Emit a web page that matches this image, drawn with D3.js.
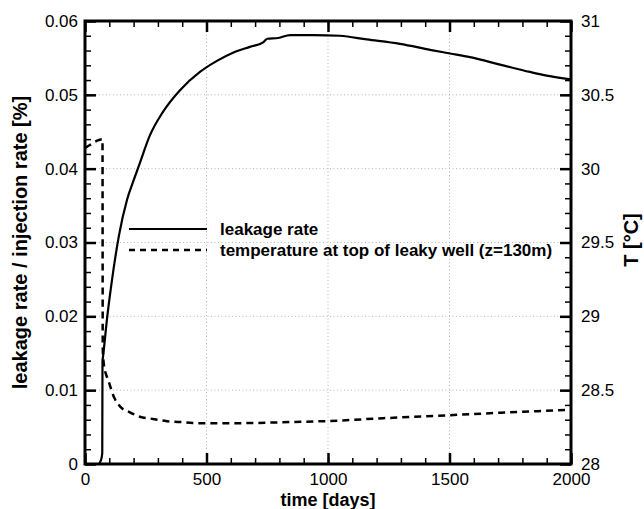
<!DOCTYPE html>
<html>
<head>
<meta charset="utf-8">
<script src="https://cdn.jsdelivr.net/npm/d3@7"></script>
<style>
  body { margin: 0; background: #fff; }
  text { font-family: "Liberation Sans", Arial, Helvetica, sans-serif; }
</style>
</head>
<body>
<div id="root"></div>
<script>
// leakage rate / injection rate [%] vs time [days]
const leakDays = [0, 55, 63, 68, 71, 72, 74, 90, 111, 140, 173, 200, 226, 267, 321, 390, 473, 543, 609, 679, 733, 750, 795, 844, 939, 1049, 1160, 1296, 1420, 1502, 1584, 1708, 1831, 1900, 2000];
const leakRate = [0, 0, 0.0003, 0.0008, 0.0015, 0.014, 0.0145, 0.0195, 0.0249, 0.031, 0.0358, 0.0384, 0.0408, 0.0445, 0.0477, 0.0506, 0.0531, 0.0546, 0.0557, 0.0565, 0.0571, 0.0576, 0.0577, 0.0581, 0.0581, 0.058, 0.0575, 0.0569, 0.0561, 0.0556, 0.0551, 0.0541, 0.0531, 0.0526, 0.0521];

// temperature at top of leaky well [°C]
const tempDays = [0, 20, 50, 72, 73, 78, 86, 95, 120, 144, 185, 226, 280, 337, 391, 444, 502, 584, 700, 800, 1000, 1227, 1494, 1708, 1975, 2000];
const tempVal = [30.14, 30.16, 30.19, 30.2, 28.78, 28.67, 28.61, 28.57, 28.45, 28.39, 28.35, 28.32, 28.305, 28.29, 28.285, 28.278, 28.276, 28.276, 28.278, 28.282, 28.291, 28.31, 28.33, 28.347, 28.366, 28.368];

const xTicks = [0, 500, 1000, 1500, 2000];
const xTickLabels = ["0", "500", "1000", "1500", "2000"];
const yLTicks = [0, 0.01, 0.02, 0.03, 0.04, 0.05, 0.06];
const yLTickLabels = ["0", "0.01", "0.02", "0.03", "0.04", "0.05", "0.06"];
const yRTicks = [28, 28.5, 29, 29.5, 30, 30.5, 31];
const yRTickLabels = ["28", "28.5", "29", "29.5", "30", "30.5", "31"];
const xMinor = d3.range(0, 2001, 100);
const yLMinor = d3.range(0, 61, 2).map(d => d / 1000);
const yRMinor = d3.range(280, 311, 1).map(d => d / 10);

const legendLabels = ["leakage rate", "temperature at top of leaky well (z=130m)"];

let width = 644,
  height = 509;
let pLeft = 85, pRight = 571, pTop = 21, pBottom = 464;

let svg = d3.select("#root").append("svg")
  .attr("width", width)
  .attr("height", height);

let x = d3.scaleLinear().domain([0, 2000]).range([pLeft, pRight]);
let yL = d3.scaleLinear().domain([0, 0.06]).range([pBottom, pTop]);
let yR = d3.scaleLinear().domain([28, 31]).range([pBottom, pTop]);

// grid
let grid = svg.append("g")
  .attr("stroke", "#b5b5b5")
  .attr("stroke-width", 1)
  .attr("stroke-dasharray", "1,2.5");
grid.selectAll(".gx")
  .data(xTicks.slice(1, -1))
  .enter()
  .append("line")
  .attr("x1", d => x(d)).attr("x2", d => x(d))
  .attr("y1", pTop).attr("y2", pBottom);
grid.selectAll(".gy")
  .data(yLTicks.slice(1, -1))
  .enter()
  .append("line")
  .attr("x1", pLeft).attr("x2", pRight)
  .attr("y1", d => yL(d)).attr("y2", d => yL(d));

// axes: minor ticks, major ticks with labels (ticks point inward)
function styleAxis(g, w) {
  g.select(".domain").remove();
  g.selectAll(".tick line").attr("stroke", "#000").attr("stroke-width", w);
  g.selectAll(".tick text").attr("fill", "#000").style("font-size", "17px");
}

let axes = [
  [() => d3.axisBottom(x), pBottom, 0, xMinor, xTicks, xTickLabels, 9],
  [() => d3.axisTop(x), pTop, 0, xMinor, xTicks, null, 0],
  [() => d3.axisLeft(yL), 0, pLeft, yLMinor, yLTicks, yLTickLabels, 7],
  [() => d3.axisRight(yR), 0, pRight, yRMinor, yRTicks, yRTickLabels, 10]
];

axes.forEach(([mk, ty, tx, minor, major, labels, pad]) => {
  svg.append("g")
    .attr("transform", `translate(${tx},${ty})`)
    .call(mk().tickValues(minor).tickSize(-6).tickFormat(""))
    .call(g => styleAxis(g, 1.5));
  svg.append("g")
    .attr("transform", `translate(${tx},${ty})`)
    .call(mk().tickValues(major).tickSize(-11).tickPadding(pad)
      .tickFormat((d, i) => labels ? labels[i] : ""))
    .call(g => styleAxis(g, 2.5));
});

// frame
svg.append("rect")
  .attr("x", pLeft).attr("y", pTop)
  .attr("width", pRight - pLeft).attr("height", pBottom - pTop)
  .attr("fill", "none")
  .attr("stroke", "#000")
  .attr("stroke-width", 3);

// series
let leakLine = d3.line()
  .x((d, i) => x(leakDays[i]))
  .y(d => yL(d))
  .curve(d3.curveMonotoneX);
svg.append("path")
  .datum(leakRate)
  .attr("d", leakLine)
  .attr("fill", "none")
  .attr("stroke", "#000")
  .attr("stroke-width", 2.2);

let tempLine = d3.line()
  .x((d, i) => x(tempDays[i]))
  .y(d => yR(d))
  .curve(d3.curveMonotoneX);
svg.append("path")
  .datum(tempVal)
  .attr("d", tempLine)
  .attr("fill", "none")
  .attr("stroke", "#000")
  .attr("stroke-width", 2.5)
  .attr("stroke-dasharray", "7,5");

// legend
let legend = svg.append("g");
legendLabels.forEach((t, i) => {
  let ly = 229 + i * 21;
  legend.append("line")
    .attr("x1", 129).attr("x2", 207)
    .attr("y1", ly).attr("y2", ly)
    .attr("stroke", "#000")
    .attr("stroke-width", i ? 2.5 : 2.2)
    .attr("stroke-dasharray", i ? "6,5" : null);
  legend.append("text")
    .attr("x", 220).attr("y", ly + 6)
    .style("font-size", "17px")
    .style("font-weight", "bold")
    .text(t);
});

// axis titles
svg.append("text")
  .attr("x", (pLeft + pRight) / 2).attr("y", 506)
  .attr("text-anchor", "middle")
  .style("font-size", "18px").style("font-weight", "bold")
  .text("time [days]");
svg.append("text")
  .attr("transform", `translate(27,${(pTop + pBottom) / 2}) rotate(-90)`)
  .attr("text-anchor", "middle")
  .style("font-size", "20px").style("font-weight", "bold")
  .text("leakage rate / injection rate [%]");
svg.append("text")
  .attr("transform", "translate(638,240) rotate(-90)")
  .attr("text-anchor", "middle")
  .style("font-size", "20px").style("font-weight", "bold")
  .text("T [°C]");
</script>
</body>
</html>
